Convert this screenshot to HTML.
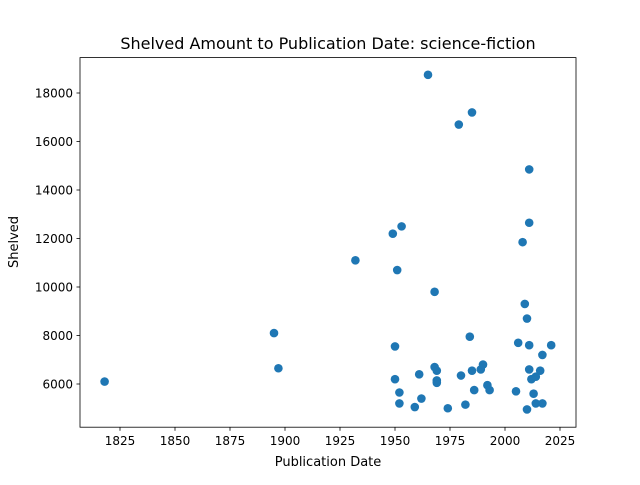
<!DOCTYPE html>
<html><head><meta charset="utf-8"><style>
body{margin:0;background:#fff;font-family:"Liberation Sans","DejaVu Sans",sans-serif}
svg text{font-family:"DejaVu Sans","Liberation Sans",sans-serif}
</style></head><body>
<svg id="chart" width="640" height="480">
<rect width="640" height="480" fill="#fff"/>
<g id="ticks"></g>
<g id="pts"></g>
<rect x="80" y="57.6" width="496" height="369.6" fill="none" stroke="#000" stroke-width="0.8"/>
<text x="328" y="49" text-anchor="middle" font-size="16">Shelved Amount to Publication Date: science-fiction</text>
<text x="328" y="466" text-anchor="middle" font-size="13">Publication Date</text>
<text transform="translate(18,242) rotate(-90)" text-anchor="middle" font-size="13">Shelved</text>
</svg>
<script>
const years=[1818,1895,1897,1932,1949,1950,1950,1951,1952,1952,1953,1959,1961,1962,1965,1968,1968,1969,1969,1969,1974,1979,1980,1982,1984,1985,1985,1986,1989,1990,1992,1993,2005,2006,2008,2009,2010,2010,2011,2011,2011,2011,2012,2013,2014,2014,2016,2017,2017,2021];
const shelved=[6100,8100,6650,11100,12200,7550,6200,10700,5650,5200,12500,5050,6400,5400,18750,9800,6700,6550,6150,6050,5000,16700,6350,5150,7950,17200,6550,5750,6600,6800,5950,5750,5700,7700,11850,9300,8700,4950,14850,12650,7600,6600,6200,5600,5200,6300,6550,5200,7200,7600];
const xTicks=[1825,1850,1875,1900,1925,1950,1975,2000,2025];
const yTicks=[6000,8000,10000,12000,14000,16000,18000];
const NS="http://www.w3.org/2000/svg";
function xs(v){return 120+(v-1825)*2.2;}
function ys(v){return 384-(v-6000)*0.02425;}
const tg=document.getElementById('ticks'),pg=document.getElementById('pts');
function mk(tag,a,p){const e=document.createElementNS(NS,tag);for(const k in a)e.setAttribute(k,a[k]);p.appendChild(e);return e;}
xTicks.forEach(t=>{const x=xs(t);
 const l=mk('line',{x1:x,x2:x,y1:427.2,y2:430.7,stroke:'#000','stroke-width':0.8},tg);
 
 
 const s=mk('text',{x:x,y:445,'text-anchor':'middle','font-size':12},tg);s.textContent=t;
 
 });
yTicks.forEach(t=>{const y=ys(t);
 const l=mk('line',{x1:76.5,x2:80,y1:y,y2:y,stroke:'#000','stroke-width':0.8},tg);
 
 
 const s=mk('text',{x:73,y:y+4.5,'text-anchor':'end','font-size':12},tg);s.textContent=t;
 
 });
years.forEach((yr,i)=>{const c=mk('circle',{cx:xs(yr),cy:ys(shelved[i]),r:4.3,fill:'#1f77b4'},pg);
 
 });
</script>
</body></html>
